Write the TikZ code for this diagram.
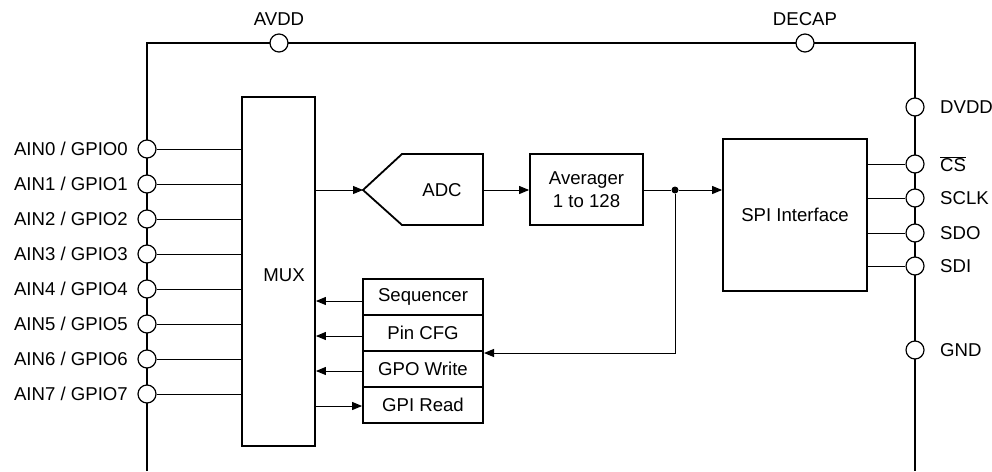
\documentclass[tikz,border=0pt]{standalone}
\usepackage{fontspec}
\setmainfont{Liberation Sans}
\usetikzlibrary{arrows.meta}
\begin{document}
\begin{tikzpicture}[x=1pt,y=-1pt,
  frame/.style={line width=2pt},
  box/.style={draw,line width=1.8pt,inner sep=0pt},
  wire/.style={line width=1pt},
  arr/.style={wire,-{Triangle[length=10pt,width=8pt]}},
  pin/.style={circle,draw,line width=1.2pt,fill=white,minimum size=18pt,inner sep=0pt},
  lbl/.style={font=\fontsize{18.6}{21}\selectfont,inner sep=0pt}]
\useasboundingbox (0,0) rectangle (992,471);
% outer frame
\draw[frame] (147,471) -- (147,43) -- (915,43) -- (915,471);
% top pins
\node[pin] (avdd) at (279,43) {};
\node[pin] (decap) at (805,43) {};
\node[lbl] at (279,19.5) {AVDD};
\node[lbl] at (805,19.5) {DECAP};
% right pins
\foreach \n/\y/\t in {dvdd/107/DVDD, cs/164/{$\overline{\hbox{CS}}$}, sclk/198/SCLK, sdo/233/SDO, sdi/266/SDI, gnd/350/GND}{
  \node[pin] (\n) at (915,\y) {};
  \node[lbl,anchor=west] (\n l) at (940,\y) {\t};
}
% MUX
\node[box,minimum width=73pt,minimum height=349pt] (mux) at (278.5,271.5) {};
\node[lbl] (muxl) at (284,275) {MUX};
% left pins
\foreach \i in {0,...,7}{
  \pgfmathsetmacro{\yy}{149+35*\i}
  \node[pin] (ain\i) at (147,\yy) {};
  \node[lbl,anchor=east] (ain\i l) at (128,\yy) {AIN\i\ / GPIO\i};
  \draw[wire] (ain\i) -- (ain\i -| mux.west);
}
% ADC
\coordinate (adctip) at (363,190);
\coordinate (adcout) at (483,190);
\draw[line width=1.8pt,line join=miter] (adctip) -- (402,154) -- (483,154) -- (483,225) -- (402,225) -- cycle;
\node[lbl] (adc) at (442,190) {ADC};
% Averager
\node[box,minimum width=113pt,minimum height=71pt,align=center,font=\fontsize{18.6}{23}\selectfont] (avg) at (586.5,189.5) {Averager\\1 to 128};
% SPI
\node[box,minimum width=144pt,minimum height=152pt,font=\fontsize{18.6}{21}\selectfont] (spi) at (795,215) {SPI Interface};
% register stack
\foreach \n/\y/\t in {seq/297/Sequencer, pcfg/333/Pin CFG, gpo/369/GPO Write, gpi/405/GPI Read}{
  \node[box,minimum width=120pt,minimum height=36pt,font=\fontsize{18.6}{21}\selectfont] (\n) at (423,\y) {\t};
}
% dot
\node[circle,fill,inner sep=0pt,minimum size=7pt] (dot) at (675,190) {};
\coordinate (fb) at (484,353);
% connectors
\draw[arr] (mux.east |- adctip) -- (adctip);
\draw[arr] (adcout) -- (avg.west |- adcout);
\draw[wire] (avg.east |- dot) -- (dot);
\draw[arr] (dot) -- (dot -| spi.west);
\draw[arr] (dot) |- (fb);
\draw[arr] (seq.west |- 0,301) -- (mux.east |- 0,301);
\draw[arr] (pcfg.west |- 0,336) -- (mux.east |- 0,336);
\draw[arr] (gpo.west |- 0,371) -- (mux.east |- 0,371);
\draw[arr] (mux.east |- 0,406) -- (gpi.west |- 0,406);
\foreach \n in {cs,sclk,sdo,sdi}{
  \draw[wire] (spi.east |- \n) -- (\n);
}
\end{tikzpicture}
\end{document}
